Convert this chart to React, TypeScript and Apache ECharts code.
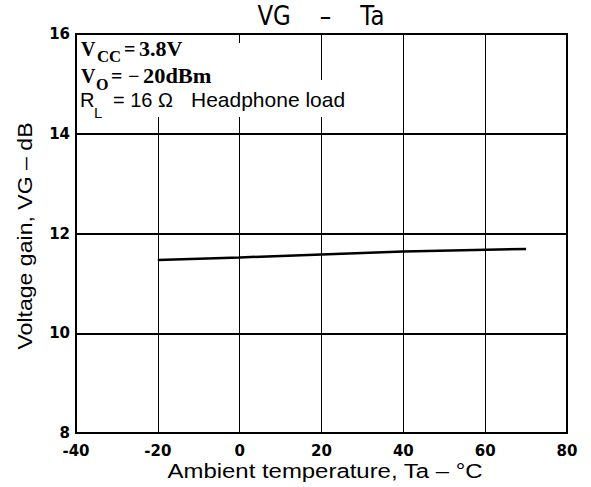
import React, { useEffect, useRef } from "react";
import * as echarts from "echarts";

// Data
const temperatures = [-20, 0, 20, 40, 70];
const voltageGain = [11.47, 11.52, 11.58, 11.64, 11.69];

const xMin = -40;
const xMax = 80;
const xStep = 20;
const yMin = 8;
const yMax = 16;
const yStep = 2;

const titleText = "VG    \u2013    Ta";
const xName = "Ambient temperature, Ta \u2013 \u00b0C";
const yName = "Voltage gain, VG \u2013 dB";

const serif = "'Liberation Serif', 'Times New Roman', serif";
const sans = "'Liberation Sans', Arial, sans-serif";

function txt(
  text: string,
  x: number,
  y: number,
  font: { size: number; family: string; weight?: string },
  extra: Record<string, unknown> = {}
) {
  return {
    type: "text",
    x,
    y,
    z: 101,
    ...extra,
    style: {
      text,
      fill: "#000",
      fontSize: font.size,
      fontFamily: font.family,
      fontWeight: font.weight || "normal",
      align: "left",
      verticalAlign: "middle",
    },
  };
}

export default function App() {
  const ref = useRef<HTMLDivElement>(null);

  useEffect(() => {
    document.body.style.margin = "0";
    const chart = echarts.init(ref.current!, null, { renderer: "svg" });
    const bold20 = { size: 20, family: serif, weight: "bold" };
    const bold16 = { size: 16, family: serif, weight: "bold" };
    const sans20 = { size: 20, family: sans };
    const sans15 = { size: 15, family: sans };
    const boxFill = "#fff";

    chart.setOption({
      animation: false,
      backgroundColor: "#fff",
      grid: {
        left: 76,
        top: 34,
        width: 491,
        height: 399,
        show: true,
        borderColor: "#000",
        borderWidth: 2,
        backgroundColor: "transparent",
      },
      xAxis: {
        type: "value",
        min: xMin,
        max: xMax,
        interval: xStep,
        axisLine: { show: false },
        axisTick: { show: false },
        splitLine: { show: true, lineStyle: { color: "#000", width: 1 } },
        axisLabel: {
          color: "#000",
          fontFamily: "'DejaVu Sans', sans-serif",
          fontWeight: "bold",
          fontSize: 15,
          margin: 10,
        },
      },
      yAxis: {
        type: "value",
        min: yMin,
        max: yMax,
        interval: yStep,
        axisLine: { show: false },
        axisTick: { show: false },
        splitLine: { show: true, lineStyle: { color: "#000", width: 2 } },
        axisLabel: {
          color: "#000",
          fontFamily: "'DejaVu Sans', sans-serif",
          fontWeight: "bold",
          fontSize: 15,
          margin: 6,
        },
      },
      series: [
        {
          type: "line",
          data: temperatures.map((t, i) => [t, voltageGain[i]]),
          showSymbol: false,
          symbol: "none",
          lineStyle: { color: "#000", width: 2.5 },
          z: 5,
        },
      ],
      graphic: [
        { type: "rect", z: 100, shape: { x: 77, y: 35, width: 128, height: 55 }, style: { fill: boxFill } },
        { type: "rect", z: 100, shape: { x: 77, y: 43, width: 176, height: 45 }, style: { fill: boxFill } },
        { type: "rect", z: 100, shape: { x: 77, y: 80, width: 272, height: 37 }, style: { fill: boxFill } },
        {
          type: "text",
          x: 321,
          y: 16,
          scaleX: 0.88,
          z: 101,
          style: {
            text: titleText,
            fill: "#000",
            fontSize: 26,
            fontFamily: "'DejaVu Sans', sans-serif",
            align: "center",
            verticalAlign: "middle",
          },
        },
        {
          type: "text",
          x: 325,
          y: 471,
          scaleX: 1.14,
          z: 101,
          style: {
            text: xName,
            fill: "#000",
            fontSize: 21,
            fontFamily: sans,
            align: "center",
            verticalAlign: "middle",
          },
        },
        {
          type: "text",
          x: 25,
          y: 236,
          rotation: Math.PI / 2,
          scaleX: 1.1,
          z: 101,
          style: {
            text: yName,
            fill: "#000",
            fontSize: 21,
            fontFamily: sans,
            align: "center",
            verticalAlign: "middle",
          },
        },
        // V_CC = 3.8V
        txt("V", 81, 49, bold20),
        txt("CC", 97, 57, bold16, { scaleX: 1.05 }),
        txt("=", 124, 49, bold20),
        txt("3.8V", 139, 49, bold20, { scaleX: 1.1 }),
        // V_O = -20dBm
        txt("V", 81, 76, bold20),
        txt("O", 96, 84, bold16),
        txt("=", 111, 76, bold20),
        txt("\u2212", 128, 76, bold20),
        txt("20dBm", 143, 76, bold20, { scaleX: 1.12 }),
        // R_L = 16 Ω Headphone load
        txt("R", 80, 100, sans20),
        txt("L", 94, 112, sans15),
        txt("= 16 \u03a9", 113, 100, sans20),
        txt("Headphone load", 191, 100, sans20, { scaleX: 1.05 }),
      ],
    });
    return () => chart.dispose();
  }, []);

  return <div ref={ref} style={{ width: 591, height: 487 }} />;
}
